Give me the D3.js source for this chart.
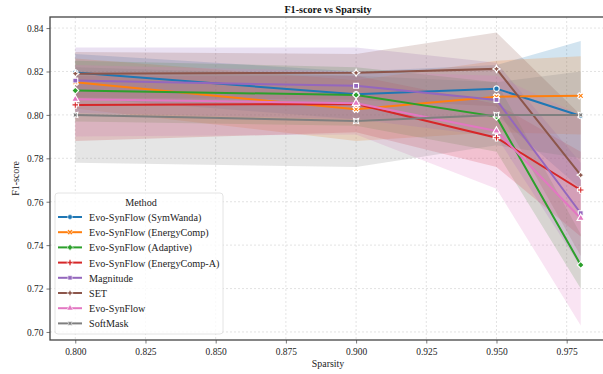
<!DOCTYPE html>
<html>
<head>
<meta charset="utf-8">
<script src="https://cdn.jsdelivr.net/npm/d3@7"></script>
<style>
  body { margin: 0; background: #fff; }
  svg { display: block; font-family: "Liberation Serif", "Times New Roman", Times, serif; }
</style>
</head>
<body>
<div id="chart"></div>
<script>
var svgWidth = 603;
var svgHeight = 374;

// data
var sparsity = [0.8, 0.9, 0.95, 0.98];
var methods = ["Evo-SynFlow (SymWanda)", "Evo-SynFlow (EnergyComp)", "Evo-SynFlow (Adaptive)",
    "Evo-SynFlow (EnergyComp-A)", "Magnitude", "SET", "Evo-SynFlow", "SoftMask"];
var meanF1 = [
    [0.8195, 0.8095, 0.8121, 0.7995],
    [0.8150, 0.8026, 0.8084, 0.8088],
    [0.8112, 0.8092, 0.7992, 0.7309],
    [0.8046, 0.8050, 0.7895, 0.7654],
    [0.8158, 0.8134, 0.8069, 0.7547],
    [0.8190, 0.8194, 0.8212, 0.7723],
    [0.8072, 0.8054, 0.7926, 0.7524],
    [0.8000, 0.7972, 0.8000, 0.8000]
];
var lowF1 = [
    [0.808, 0.798, 0.800, 0.766],
    [0.803, 0.788, 0.792, 0.791],
    [0.797, 0.795, 0.783, 0.720],
    [0.788, 0.792, 0.776, 0.744],
    [0.801, 0.798, 0.790, 0.730],
    [0.808, 0.807, 0.804, 0.735],
    [0.790, 0.791, 0.766, 0.703],
    [0.778, 0.776, 0.786, 0.780]
];
var highF1 = [
    [0.828, 0.820, 0.823, 0.834],
    [0.826, 0.816, 0.825, 0.827],
    [0.825, 0.822, 0.815, 0.745],
    [0.818, 0.818, 0.805, 0.783],
    [0.831, 0.831, 0.824, 0.778],
    [0.829, 0.828, 0.838, 0.800],
    [0.823, 0.820, 0.818, 0.800],
    [0.822, 0.818, 0.815, 0.820]
];
var xTicks = [0.800, 0.825, 0.850, 0.875, 0.900, 0.925, 0.950, 0.975];
var yTicks = [0.70, 0.72, 0.74, 0.76, 0.78, 0.80, 0.82, 0.84];

var colors = ["#1f77b4", "#ff7f0e", "#2ca02c", "#d62728", "#9467bd", "#8c564b", "#e377c2", "#7f7f7f"];
var squeeze = 0.9; // the reference text is a little narrow

// seaborn-like marker shapes
var star4 = {
    draw: function (ctx, size) {
        var r = Math.sqrt(size) * 0.75, s = r * 0.35;
        ctx.moveTo(0, -r); ctx.lineTo(s, -s); ctx.lineTo(r, 0); ctx.lineTo(s, s);
        ctx.lineTo(0, r); ctx.lineTo(-s, s); ctx.lineTo(-r, 0); ctx.lineTo(-s, -s);
        ctx.closePath();
    }
};
var markers = [
    { type: d3.symbolCircle, rot: 0 },
    { type: d3.symbolCross, rot: 45 },
    { type: d3.symbolSquare, rot: 45 },
    { type: d3.symbolCross, rot: 0 },
    { type: d3.symbolSquare, rot: 0 },
    { type: star4, rot: 0 },
    { type: d3.symbolTriangle, rot: 0 },
    { type: star4, rot: 45 }
];

var margin = { top: 17, right: -3, bottom: 34, left: 50 };
var width = svgWidth - margin.left - margin.right;
var height = svgHeight - margin.top - margin.bottom;

var svg = d3.select("#chart")
    .append("svg")
    .attr("width", svgWidth)
    .attr("height", svgHeight);

var chartGroup = svg.append("g")
    .attr("transform", `translate(${margin.left}, ${margin.top})`);

var xScale = d3.scaleLinear().domain([0.791, 0.989]).range([0, width]);
var yScale = d3.scaleLinear().domain([0.6963, 0.8451]).range([height, 0]);

// text helper: squeezed text placed at (x, y)
function label(parent, x, y, str, size, anchor, extra) {
    var g = parent.append("g").attr("transform", `translate(${x}, ${y}) ${extra || ""} scale(${squeeze}, 1)`);
    return g.append("text")
        .attr("text-anchor", anchor || "start")
        .attr("font-size", size)
        .attr("fill", "#222")
        .text(str);
}

// grid
chartGroup.append("g")
    .selectAll("line.vg").data(xTicks).enter().append("line")
    .attr("x1", d => xScale(d)).attr("x2", d => xScale(d))
    .attr("y1", 0).attr("y2", height)
    .attr("stroke", "#dcdcdc").attr("stroke-width", 0.8).attr("stroke-dasharray", "2,2");
chartGroup.append("g")
    .selectAll("line.hg").data(yTicks).enter().append("line")
    .attr("y1", d => yScale(d)).attr("y2", d => yScale(d))
    .attr("x1", 0).attr("x2", width)
    .attr("stroke", "#dcdcdc").attr("stroke-width", 0.8).attr("stroke-dasharray", "2,2");

// bands and lines
var area = d3.area()
    .x(d => xScale(d.x))
    .y0(d => yScale(d.lo))
    .y1(d => yScale(d.hi));
var line = d3.line()
    .x(d => xScale(d.x))
    .y(d => yScale(d.y));

methods.forEach(function (m, i) {
    var pts = sparsity.map((x, j) => ({ x: x, y: meanF1[i][j], lo: lowF1[i][j], hi: highF1[i][j] }));
    chartGroup.append("path")
        .datum(pts)
        .attr("d", area)
        .attr("fill", colors[i])
        .attr("fill-opacity", 0.2);
});

methods.forEach(function (m, i) {
    var pts = sparsity.map((x, j) => ({ x: x, y: meanF1[i][j] }));
    chartGroup.append("path")
        .datum(pts)
        .attr("d", line)
        .attr("fill", "none")
        .attr("stroke", colors[i])
        .attr("stroke-width", 2);
    chartGroup.selectAll(".mk" + i)
        .data(pts)
        .enter()
        .append("path")
        .attr("class", "mk" + i)
        .attr("d", d3.symbol().type(markers[i].type).size(24))
        .attr("transform", d => `translate(${xScale(d.x)}, ${yScale(d.y)}) rotate(${markers[i].rot})`)
        .attr("fill", colors[i])
        .attr("stroke", "#fff")
        .attr("stroke-width", 1.1);
});

// axes
var bottomAxis = d3.axisBottom(xScale).tickValues(xTicks).tickFormat(d3.format(".3f")).tickSize(3.5).tickPadding(4);
var leftAxis = d3.axisLeft(yScale).tickValues(yTicks).tickFormat(d3.format(".2f")).tickSize(3.5).tickPadding(3);

var gx = chartGroup.append("g")
    .attr("transform", `translate(0, ${height})`)
    .call(bottomAxis);
var gy = chartGroup.append("g")
    .call(leftAxis);
[gx, gy].forEach(function (g) {
    g.attr("font-family", null);
    g.select(".domain").remove();
    g.selectAll(".tick line").attr("stroke", "#555").attr("stroke-width", 0.8);
    g.selectAll(".tick text")
        .attr("fill", "#222")
        .attr("font-size", 10.5);
});
gx.selectAll(".tick text").attr("transform", `scale(${squeeze}, 1)`);
gy.selectAll(".tick text").attr("transform", `translate(-6.5, 0) scale(${squeeze}, 1)`).attr("x", 0);

// frame
chartGroup.append("rect")
    .attr("x", 0).attr("y", 0)
    .attr("width", width).attr("height", height)
    .attr("fill", "none")
    .attr("stroke", "#444")
    .attr("stroke-width", 1.3);

// title and axis labels
label(svg, margin.left + width / 2, 12.5, "F1-score vs Sparsity", 11.3, "middle")
    .attr("font-weight", "bold").attr("fill", "#111");
label(svg, 328, 367, "Sparsity", 11, "middle");
label(svg, 19, margin.top + height / 2, "F1-score", 11, "middle", "rotate(-90)");

// legend
var legend = svg.append("g").attr("transform", "translate(55, 193)");
legend.append("rect")
    .attr("width", 168).attr("height", 141)
    .attr("rx", 3)
    .attr("fill", "#fff").attr("fill-opacity", 0.8)
    .attr("stroke", "#ddd").attr("stroke-width", 0.8);
label(legend, 86, 13, "Method", 11.3, "middle");

methods.forEach(function (m, i) {
    var ly = 24 + i * 15.2;
    var item = legend.append("g").attr("transform", `translate(0, ${ly})`);
    item.append("line")
        .attr("x1", 3).attr("x2", 27)
        .attr("stroke", colors[i]).attr("stroke-width", 2);
    item.append("path")
        .attr("d", d3.symbol().type(markers[i].type).size(18))
        .attr("transform", `translate(15, 0) rotate(${markers[i].rot})`)
        .attr("fill", colors[i])
        .attr("stroke", "#fff")
        .attr("stroke-width", 0.6);
    label(item, 34, 4, m, 11.3, "start");
});
</script>
</body>
</html>
